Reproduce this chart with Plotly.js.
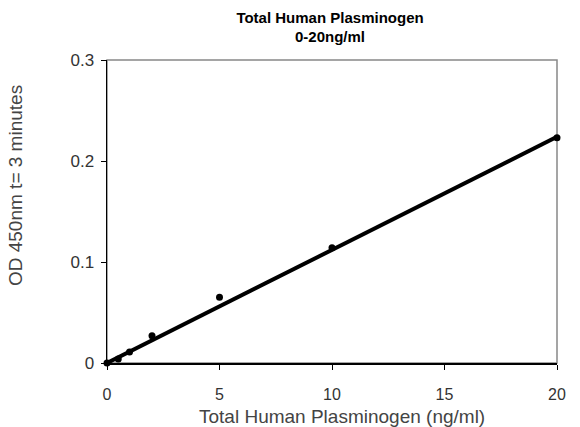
<!DOCTYPE html>
<html><head><meta charset="utf-8">
<script src="https://cdn.plot.ly/plotly-3.0.1.min.js"></script>
<style>html,body{margin:0;padding:0;background:#fff}#c{width:580px;height:427px}</style>
</head><body><div id="c"></div>
<script>
var concentration = [0, 0.5, 1, 2, 5, 10, 20];
var od450 = [0, 0.004, 0.011, 0.027, 0.065, 0.114, 0.223];
var trendX = [0, 20];
var trendY = [0, 0.224];
var xTicks = [0, 5, 10, 15, 20];
var yTicks = [0, 0.1, 0.2, 0.3];
var yTickLabels = ['0', '0.1', '0.2', '0.3'];

var traces = [
  {x: trendX, y: trendY, mode: 'lines', line: {color: '#000', width: 4}, hoverinfo: 'skip', cliponaxis: false},
  {x: concentration, y: od450, mode: 'markers', marker: {color: '#000', size: 7}, cliponaxis: false}
];
var layout = {
  width: 580, height: 427,
  margin: {l: 107, r: 23, t: 60, b: 64},
  paper_bgcolor: '#fff', plot_bgcolor: '#fff',
  showlegend: false,
  font: {family: 'Liberation Sans, Arial, sans-serif', color: '#222'},
  title: {text: '<b>Total Human Plasminogen<br>0-20ng/ml</b>', x: 0.569, xanchor: 'center', y: 0.947, yanchor: 'top', font: {size: 15, color: '#000'}},
  xaxis: {range: [0, 20], tickvals: xTicks, ticks: 'outside', ticklen: 5, tickcolor: '#000', showline: true, linecolor: '#000', linewidth: 1.5, showgrid: false, zeroline: false, ticklabelstandoff: 11, tickfont: {size: 16, color: '#333'}},
  yaxis: {range: [0, 0.3], tickvals: yTicks, ticktext: yTickLabels, ticks: 'outside', ticklen: 5, tickcolor: '#000', showline: true, linecolor: '#000', linewidth: 1.5, showgrid: false, zeroline: false, ticklabelstandoff: 3, tickfont: {size: 17, color: '#333'}},
  annotations: [
    {text: 'Total Human Plasminogen (ng/ml)', xref: 'paper', yref: 'paper', x: 0.522, y: 0, yshift: -53, xanchor: 'center', yanchor: 'middle', showarrow: false, font: {size: 19, color: '#444'}},
    {text: 'OD 450nm t= 3 minutes', xref: 'paper', yref: 'paper', x: 0, xshift: -92, y: 0.584, xanchor: 'center', yanchor: 'middle', textangle: -90, showarrow: false, font: {size: 19, color: '#444'}}
  ],
  shapes: [{type: 'rect', xref: 'paper', yref: 'paper', x0: 0, x1: 1, y0: 0, y1: 1, line: {color: '#888', width: 1.5}, layer: 'below'}]
};
Plotly.newPlot('c', traces, layout, {displayModeBar: false, staticPlot: true});
</script></body></html>
